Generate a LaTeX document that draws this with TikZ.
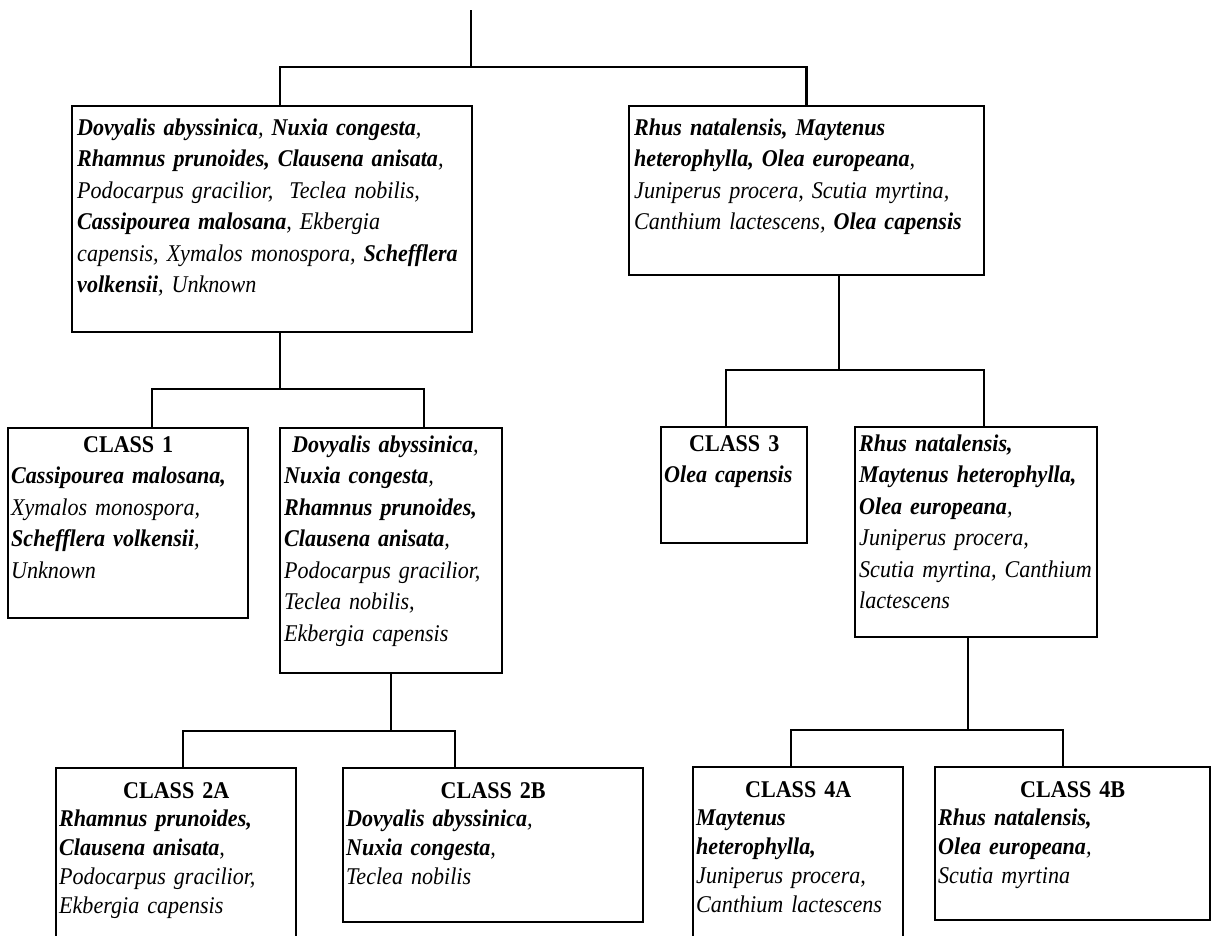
\documentclass[tikz,border=0pt]{standalone}
\usepackage{fontspec}
\setmainfont{Liberation Serif}[FakeStretch=0.92]
\newcommand{\bi}[1]{\textbf{#1}}
\newcommand{\cls}[1]{\makebox[\linewidth]{\upshape\bfseries #1}}

\begin{document}
\begin{tikzpicture}[x=1pt, y=-1pt,
  box/.style={draw, line width=2.2pt, inner sep=0pt, outer sep=0pt, anchor=north west},
  txt/.style={anchor=base west, inner sep=0pt, text width=#1, align=left,
              font=\fontsize{24}{31.5}\selectfont\itshape},
  lowtxt/.style={txt=#1, font=\fontsize{24}{28.8}\selectfont\itshape},
  link/.style={line width=2.2pt}
]
  \useasboundingbox (0,0) rectangle (1213,935);
  \clip (0,0) rectangle (1213,935);

  % First split
  \node[box, minimum width=400pt, minimum height=226pt] (A) at (72,106) {};
  \node[txt=440pt] (Atxt) at ([shift={(5pt,-29pt)}]A.north west)
    {\bi{Dovyalis abyssinica}, \bi{Nuxia congesta},\\
     \bi{Rhamnus prunoides, Clausena anisata},\\
     Podocarpus gracilior, \ Teclea nobilis,\\
     \bi{Cassipourea malosana}, Ekbergia\\
     capensis, Xymalos monospora, \bi{Schefflera}\\
     \bi{volkensii}, Unknown};
  \node[box, minimum width=355pt, minimum height=169pt] (B) at (629,106) {};
  \node[txt=400pt] (Btxt) at ([shift={(5pt,-29pt)}]B.north west)
    {\bi{Rhus natalensis, Maytenus}\\
     \bi{heterophylla, Olea europeana},\\
     Juniperus procera, Scutia myrtina,\\
     Canthium lactescens, \bi{Olea capensis}};

  % Second split
  \node[box, minimum width=240pt, minimum height=190pt] (C1) at (8,428) {};
  \node[txt=234pt] (C1txt) at ([shift={(3pt,-24pt)}]C1.north west)
    {\cls{CLASS 1}\\
     \bi{Cassipourea malosana,}\\
     Xymalos monospora,\\
     \bi{Schefflera volkensii},\\
     Unknown};
  \node[box, minimum width=222pt, minimum height=245pt] (C2) at (280,428) {};
  \node[txt=260pt] (C2txt) at ([shift={(4pt,-24pt)}]C2.north west)
    {\ \bi{Dovyalis abyssinica},\\
     \bi{Nuxia congesta},\\
     \bi{Rhamnus prunoides,}\\
     \bi{Clausena anisata},\\
     Podocarpus gracilior,\\
     Teclea nobilis,\\
     Ekbergia capensis};
  \node[box, minimum width=146pt, minimum height=116pt] (C3) at (661,427) {};
  \node[txt=140pt] (C3txt) at ([shift={(3pt,-24pt)}]C3.north west)
    {\cls{CLASS 3}\\
     \bi{Olea capensis}};
  \node[box, minimum width=242pt, minimum height=210pt] (D) at (855,427) {};
  \node[txt=280pt] (Dtxt) at ([shift={(4pt,-24pt)}]D.north west)
    {\bi{Rhus natalensis,}\\
     \bi{Maytenus heterophylla,}\\
     \bi{Olea europeana},\\
     Juniperus procera,\\
     Scutia myrtina, Canthium\\
     lactescens};

  % Third split
  \node[box, minimum width=240pt, minimum height=190pt] (C2A) at (56,768) {};
  \node[lowtxt=234pt] (C2Atxt) at ([shift={(3pt,-30pt)}]C2A.north west)
    {\cls{CLASS 2A}\\
     \bi{Rhamnus prunoides,}\\
     \bi{Clausena anisata},\\
     Podocarpus gracilior,\\
     Ekbergia capensis};
  \node[box, minimum width=300pt, minimum height=154pt] (C2B) at (343,768) {};
  \node[lowtxt=294pt] (C2Btxt) at ([shift={(3pt,-30pt)}]C2B.north west)
    {\cls{CLASS 2B}\\
     \bi{Dovyalis abyssinica},\\
     \bi{Nuxia congesta},\\
     Teclea nobilis};
  \node[box, minimum width=210pt, minimum height=190pt] (C4A) at (693,767) {};
  \node[lowtxt=204pt] (C4Atxt) at ([shift={(3pt,-30pt)}]C4A.north west)
    {\cls{CLASS 4A}\\
     \bi{Maytenus}\\
     \bi{heterophylla,}\\
     Juniperus procera,\\
     Canthium lactescens};
  \node[box, minimum width=275pt, minimum height=153pt] (C4B) at (935,767) {};
  \node[lowtxt=269pt] (C4Btxt) at ([shift={(3pt,-30pt)}]C4B.north west)
    {\cls{CLASS 4B}\\
     \bi{Rhus natalensis,}\\
     \bi{Olea europeana},\\
     Scutia myrtina};

  % Connectors
  \coordinate (root) at (471,10);
  \coordinate (s0) at (471,67);
  \coordinate (sA) at (280,389);
  \coordinate (sB) at (839,370);
  \coordinate (sC) at (391,731);
  \coordinate (sD) at (968,730);
  \draw[link] (root) -- (s0);
  \draw[link] ([xshift=8pt]A.north) |- (s0) -| (B.north);
  \draw[link] (sA |- A.south) -- (sA);
  \draw[link] ([xshift=24pt]C1.north) |- (sA) -| ([xshift=33pt]C2.north);
  \draw[link] (sB |- B.south) -- (sB);
  \draw[link] ([xshift=-8pt]C3.north) |- (sB) -| ([xshift=8pt]D.north);
  \draw[link] (sC |- C2.south) -- (sC);
  \draw[link] ([xshift=7pt]C2A.north) |- (sC) -| ([xshift=-38pt]C2B.north);
  \draw[link] (sD |- D.south) -- (sD);
  \draw[link] ([xshift=-7pt]C4A.north) |- (sD) -| ([xshift=-9.5pt]C4B.north);
\end{tikzpicture}
\end{document}
